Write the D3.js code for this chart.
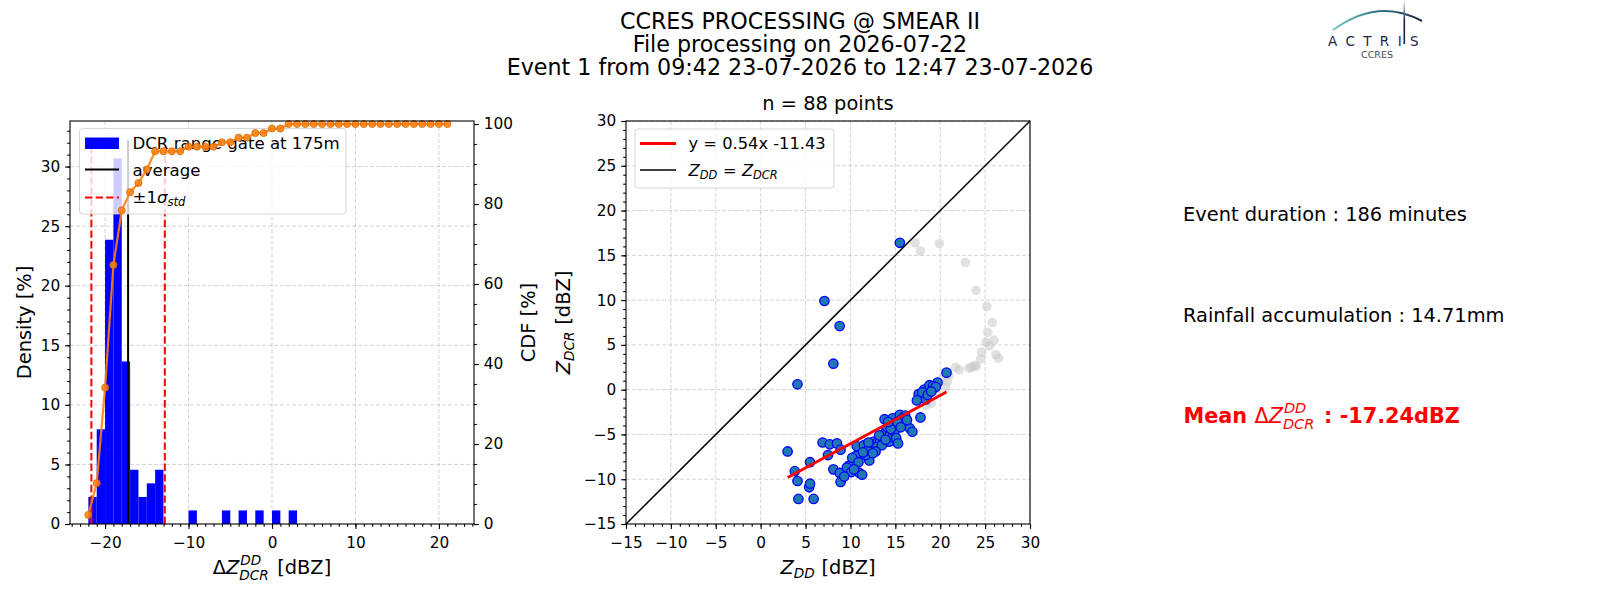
<!DOCTYPE html>
<html>
<head>
<meta charset="utf-8">
<script src="https://cdn.jsdelivr.net/npm/d3@7"></script>
<style>
  body { margin: 0; background: #fff; }
  svg text { font-family: "DejaVu Sans", sans-serif; }
</style>
</head>
<body>
<svg id="fig" width="1600" height="600"></svg>
<script>
// ---- data ----
var titleLines = ["CCRES PROCESSING @ SMEAR II", "File processing on 2026-07-22",
                  "Event 1 from 09:42 23-07-2026 to 12:47 23-07-2026"];

// histogram of dZ (bin left edge, 1 dBZ wide) -> density in %
var binStart = [-22, -21, -20, -19, -18, -17, -16, -15, -14, -10, -6, -4, -2, 0, 2];
var density  = [2.27, 7.95, 23.86, 30.68, 13.64, 4.55, 2.27, 3.41, 4.55, 1.14, 1.14, 1.14, 1.14, 1.14, 1.14];

// cumulative distribution at each bin edge, %
var cdfX   = [-22, -21, -20, -19, -18, -17, -16, -15, -14, -13, -12, -11, -10, -9, -8, -7, -6, -5, -4, -3, -2, -1,
              0, 1, 2, 3, 4, 5, 6, 7, 8, 9, 10, 11, 12, 13, 14, 15, 16, 17, 18, 19, 20, 21];
var cdfVal = [2.27, 10.23, 34.09, 64.77, 78.41, 82.95, 85.23, 88.64, 93.18, 93.18, 93.18, 93.18, 94.32, 94.32,
              94.32, 94.32, 95.45, 95.45, 96.59, 96.59, 97.73, 97.73, 98.86, 98.86, 100, 100, 100, 100, 100, 100,
              100, 100, 100, 100, 100, 100, 100, 100, 100, 100, 100, 100, 100, 100];

var meanDz = -17.24;
var stdDz = 4.40;

// scatter: disdrometer Z vs DCR Z (used points)
var zdd  = [15.5, 7.1, 8.8, 8.1, 4.1, 20.7, 3.0, 3.8, 4.1, 4.2, 5.9, 5.4, 5.5, 5.5, 6.9, 7.7, 8.5, 7.5, 8.9, 8.1,
            8.8, 8.9, 9.8, 9.9, 10.6, 11.0, 11.3, 10.7, 11.5, 12.1, 11.7, 12.4, 12.6, 13.0, 13.3, 13.6, 13.8, 14.0,
            14.3, 14.4, 14.7, 14.9, 15.1, 15.3, 13.8, 14.7, 14.8, 15.5, 16.1, 16.0, 16.6, 16.9, 17.8, 17.6, 18.2,
            18.4, 18.8, 19.3, 19.7, 19.2, 18.0, 19.5, 10.2, 12.2, 9.6, 10.1, 12.9, 14.1, 15.8, 13.5, 11.9, 13.2,
            14.5, 15.2, 12.8, 10.9, 16.3, 18.6, 13.9, 12.5, 11.4, 9.3, 14.2, 15.6, 17.4, 19.0, 12.0, 10.4];
var zdcr = [16.4, 9.9, 7.1, 2.9, 0.6, 1.9, -6.9, -9.1, -10.2, -12.2, -12.2, -10.9, -10.5, -8.1, -5.9, -6.1, -6.0,
            -7.3, -6.7, -8.9, -9.3, -10.3, -8.5, -9.0, -7.4, -9.3, -9.5, -6.3, -6.2, -7.9, -7.3, -6.6, -5.8, -5.9,
            -5.7, -5.4, -4.9, -4.6, -5.8, -5.0, -5.3, -4.7, -5.4, -6.0, -3.3, -3.2, -3.9, -2.8, -2.9, -3.7, -4.3,
            -4.7, -3.1, -0.5, 0.0, -1.1, 0.5, 0.2, 0.8, 0.4, -0.3, 0.3, -7.6, -6.2, -8.7, -9.2, -6.4, -4.2, -3.2,
            -6.2, -6.8, -5.1, -4.4, -3.6, -6.9, -8.1, -3.4, -0.6, -5.6, -7.1, -7.0, -9.7, -3.6, -4.2, -1.2, -0.2,
            -5.9, -8.9];
// points left out (drawn in grey)
var greyZdd  = [17.2, 17.8, 19.9, 22.8, 24.0, 25.2, 25.8, 25.3, 25.1, 25.5, 26.0, 24.6, 24.5, 26.2, 26.5, 24.0,
                23.5, 23.8, 22.1, 21.7, 21.0, 20.8, 20.6, 19.5, 19.0, 18.4, 20.2, 23.2];
var greyZdcr = [16.4, 15.5, 16.3, 14.2, 11.1, 9.3, 7.5, 6.4, 5.3, 4.9, 5.5, 4.2, 3.4, 3.9, 3.5, 2.6,
                2.5, 2.7, 2.2, 2.5, 1.6, 0.9, 0.2, -0.5, -1.5, -1.7, 1.2, 2.4];

var fitSlope = 0.54, fitIntercept = -11.43;
var nPoints = 88;

var histXTicks = [-20, -10, 0, 10, 20];
var densityTicks = [0, 5, 10, 15, 20, 25, 30];
var cdfTicks = [0, 20, 40, 60, 80, 100];
var scatTicks = [-15, -10, -5, 0, 5, 10, 15, 20, 25, 30];

var infoLines = ["Event duration : 186 minutes", "Rainfall accumulation : 14.71mm"];
var meanLabel = "-17.24dBZ";

// ---- helpers ----
var svg = d3.select("#fig");
var fmt = function (d) { return (d < 0 ? "\u2212" : "") + Math.abs(d); };

// text made of pieces, with stacked super/subscripts like mathtext
function richText(parent, x, y, parts, o) {
    var size = o.size;
    var g = parent.append("g")
        .attr("transform", "translate(" + x + "," + y + ")" + (o.rotate ? " rotate(" + o.rotate + ")" : ""));
    var inner = g.append("g");
    var cx = 0;
    function piece(txt, px, py, fs, italic, bold) {
        var t = inner.append("text").attr("x", px).attr("y", py)
            .style("font-size", fs + "px")
            .style("font-style", italic ? "italic" : "normal")
            .style("font-weight", bold ? "bold" : "normal")
            .attr("fill", o.fill || "#000")
            .attr("xml:space", "preserve")
            .text(txt);
        return t.node().getComputedTextLength();
    }
    parts.forEach(function (p) {
        if (p.sup !== undefined || p.sub !== undefined) {
            var w = 0, both = p.sup !== undefined && p.sub !== undefined;
            if (p.sup !== undefined) w = Math.max(w, piece(p.sup, cx + size * 0.05, -size * 0.46, size * 0.7, true));
            if (p.sub !== undefined) w = Math.max(w, piece(p.sub, cx, size * (both ? 0.3 : 0.2), size * 0.7, true));
            cx += w + size * (both ? 0.12 : 0.04);
        } else {
            cx += piece(p.t, cx, 0, size, p.it, p.bold);
        }
    });
    if (o.anchor === "middle") inner.attr("transform", "translate(" + (-cx / 2) + ",0)");
    return g;
}

function styleAxis(g, fs) {
    g.select(".domain").remove();
    g.selectAll("line").attr("stroke", "#000").attr("stroke-width", 1.1);
    g.selectAll("text").attr("fill", "#000").style("font-size", fs + "px")
        .style("font-family", "DejaVu Sans");
}

function grid(g, xs, ys, xScale, yScale, box) {
    xs.forEach(function (v) {
        g.append("line").attr("x1", xScale(v)).attr("x2", xScale(v)).attr("y1", box.y0).attr("y2", box.y1)
            .attr("stroke", "#b0b0b0").attr("stroke-opacity", 0.55).attr("stroke-width", 1)
            .attr("stroke-dasharray", "4,2");
    });
    ys.forEach(function (v) {
        g.append("line").attr("y1", yScale(v)).attr("y2", yScale(v)).attr("x1", box.x0).attr("x2", box.x1)
            .attr("stroke", "#b0b0b0").attr("stroke-opacity", 0.55).attr("stroke-width", 1)
            .attr("stroke-dasharray", "4,2");
    });
}

// ---- title ----
titleLines.forEach(function (s, i) {
    svg.append("text").attr("x", 800).attr("y", 28.5 + i * 23).attr("text-anchor", "middle")
        .style("font-size", "22.2px").text(s);
});

// ---- left panel: histogram + CDF ----
var L = { x0: 70, x1: 474, y0: 121, y1: 524 };
var vTop = d3.max(density) * 1.05;
var hx = d3.scaleLinear().domain([-24.2, 24.2]).range([L.x0, L.x1]);
var hy = d3.scaleLinear().domain([0, vTop * 1.05]).range([L.y1, L.y0]);
var cy = d3.scaleLinear().domain([0, 100.75]).range([L.y1, L.y0]);

var left = svg.append("g");
grid(left, histXTicks, densityTicks.filter(function (d) { return d > 0; }), hx, hy, L);

left.selectAll("rect.bar").data(binStart).enter().append("rect")
    .attr("class", "bar")
    .attr("x", function (d) { return hx(d); })
    .attr("width", function (d) { return hx(d + 1) - hx(d); })
    .attr("y", function (d, i) { return hy(density[i]); })
    .attr("height", function (d, i) { return hy(0) - hy(density[i]); })
    .attr("fill", "#0000ff");

left.append("line").attr("x1", hx(meanDz)).attr("x2", hx(meanDz)).attr("y1", hy(0)).attr("y2", hy(vTop))
    .attr("stroke", "#000").attr("stroke-width", 2);
[meanDz - stdDz, meanDz + stdDz].forEach(function (v) {
    left.append("line").attr("x1", hx(v)).attr("x2", hx(v)).attr("y1", hy(0)).attr("y2", hy(vTop))
        .attr("stroke", "#ff0000").attr("stroke-width", 2).attr("stroke-dasharray", "7.4,3.2");
});

// legend of the histogram axes
var lg = left.append("g");
lg.append("rect").attr("x", 79.5).attr("y", 128.5).attr("width", 266.5).attr("height", 85.5).attr("rx", 3)
    .attr("fill", "#fff").attr("fill-opacity", 0.8).attr("stroke", "#cccccc").attr("stroke-opacity", 0.8);
lg.append("rect").attr("x", 85).attr("y", 137.5).attr("width", 34).attr("height", 11.5).attr("fill", "#0000ff");
lg.append("line").attr("x1", 85).attr("x2", 119).attr("y1", 169.5).attr("y2", 169.5)
    .attr("stroke", "#000").attr("stroke-width", 2);
lg.append("line").attr("x1", 85).attr("x2", 119).attr("y1", 197.5).attr("y2", 197.5)
    .attr("stroke", "#ff0000").attr("stroke-width", 2).attr("stroke-dasharray", "7.4,3.2");
richText(lg, 132.5, 149, [{ t: "DCR range gate at 175m" }], { size: 16.6 });
richText(lg, 132.5, 175.5, [{ t: "average" }], { size: 16.6 });
richText(lg, 132.5, 203, [{ t: "\u00b11" }, { t: "\u03c3", it: true }, { sub: "std" }], { size: 16.6 });

// CDF on the twin axis
var cdfLine = d3.line().x(function (d, i) { return hx(d); }).y(function (d, i) { return cy(cdfVal[i]); });
left.append("path").datum(cdfX).attr("d", cdfLine).attr("fill", "none")
    .attr("stroke", "#ff7f0e").attr("stroke-width", 2.2).attr("stroke-opacity", 0.9);
left.selectAll("circle.cdf").data(cdfX).enter().append("circle")
    .attr("class", "cdf")
    .attr("cx", function (d) { return hx(d); })
    .attr("cy", function (d, i) { return cy(cdfVal[i]); })
    .attr("r", 3.5).attr("fill", "#ff7f0e").attr("fill-opacity", 0.85)
    .attr("stroke", "#e06a00").attr("stroke-width", 0.9);

left.append("rect").attr("x", L.x0).attr("y", L.y0).attr("width", L.x1 - L.x0).attr("height", L.y1 - L.y0)
    .attr("fill", "none").attr("stroke", "#000").attr("stroke-width", 1.1);

var gx = left.append("g").attr("transform", "translate(0," + L.y1 + ")")
    .call(d3.axisBottom(hx).tickValues(histXTicks).tickSize(4.9).tickPadding(8).tickFormat(fmt));
styleAxis(gx, 15.3);
var gxm = left.append("g").attr("transform", "translate(0," + L.y1 + ")")
    .call(d3.axisBottom(hx).tickValues(d3.range(-24, 25)).tickSize(2.8).tickFormat(""));
styleAxis(gxm, 15.3);
var gyl = left.append("g").attr("transform", "translate(" + L.x0 + ",0)")
    .call(d3.axisLeft(hy).tickValues(densityTicks).tickSize(4.9).tickPadding(4.9).tickFormat(fmt));
styleAxis(gyl, 15.3);
var gylm = left.append("g").attr("transform", "translate(" + L.x0 + ",0)")
    .call(d3.axisLeft(hy).tickValues(d3.range(0, 34)).tickSize(2.8).tickFormat(""));
styleAxis(gylm, 15.3);
var gyr = left.append("g").attr("transform", "translate(" + L.x1 + ",0)")
    .call(d3.axisRight(cy).tickValues(cdfTicks).tickSize(4.9).tickPadding(4.9).tickFormat(fmt));
styleAxis(gyr, 15.3);
var gyrm = left.append("g").attr("transform", "translate(" + L.x1 + ",0)")
    .call(d3.axisRight(cy).tickValues(d3.range(0, 101, 5)).tickSize(2.8).tickFormat(""));
styleAxis(gyrm, 15.3);

richText(left, 272, 574, [{ t: "\u0394" }, { t: "Z", it: true }, { sup: "DD", sub: "DCR" }, { t: " [dBZ]" }],
    { size: 19.4, anchor: "middle" });
richText(left, 30.5, 322.5, [{ t: "Density [%]" }], { size: 19.4, anchor: "middle", rotate: -90 });
richText(left, 535, 322.5, [{ t: "CDF [%]" }], { size: 19.4, anchor: "middle", rotate: -90 });

// ---- middle panel: scatter ----
var S = { x0: 626, x1: 1030, y0: 121, y1: 524 };
var sx = d3.scaleLinear().domain([-15, 30]).range([S.x0, S.x1]);
var sy = d3.scaleLinear().domain([-15, 30]).range([S.y1, S.y0]);
var mid = svg.append("g");
grid(mid, scatTicks.slice(1), scatTicks.slice(1), sx, sy, S);

mid.selectAll("circle.grey").data(greyZdd).enter().append("circle")
    .attr("class", "grey")
    .attr("cx", function (d) { return sx(d); })
    .attr("cy", function (d, i) { return sy(greyZdcr[i]); })
    .attr("r", 4.8).attr("fill", "#c8c8c8").attr("fill-opacity", 0.55);

mid.selectAll("circle.pt").data(zdd).enter().append("circle")
    .attr("class", "pt")
    .attr("cx", function (d) { return sx(d); })
    .attr("cy", function (d, i) { return sy(zdcr[i]); })
    .attr("r", 4.7).attr("fill", "#1f77b4").attr("stroke", "#0000ff").attr("stroke-width", 1.3);

var fx = d3.extent(zdd);
mid.append("line").attr("x1", sx(fx[0])).attr("x2", sx(fx[1]))
    .attr("y1", sy(fitSlope * fx[0] + fitIntercept)).attr("y2", sy(fitSlope * fx[1] + fitIntercept))
    .attr("stroke", "#ff0000").attr("stroke-width", 2.8);
mid.append("line").attr("x1", sx(-15)).attr("x2", sx(30)).attr("y1", sy(-15)).attr("y2", sy(30))
    .attr("stroke", "#000").attr("stroke-width", 1.5);

var lg2 = mid.append("g");
lg2.append("rect").attr("x", 635).attr("y", 129).attr("width", 199).attr("height", 59).attr("rx", 3)
    .attr("fill", "#fff").attr("fill-opacity", 0.8).attr("stroke", "#cccccc").attr("stroke-opacity", 0.8);
lg2.append("line").attr("x1", 640).attr("x2", 676).attr("y1", 143.5).attr("y2", 143.5)
    .attr("stroke", "#ff0000").attr("stroke-width", 2.8);
lg2.append("line").attr("x1", 640).attr("x2", 676).attr("y1", 170).attr("y2", 170)
    .attr("stroke", "#000").attr("stroke-width", 1.5);
richText(lg2, 688.5, 149, [{ t: "y = " + fitSlope + "x " + fitIntercept }], { size: 16.3 });
richText(lg2, 688.5, 176, [{ t: "Z", it: true }, { sub: "DD" }, { t: " = " }, { t: "Z", it: true }, { sub: "DCR" }],
    { size: 16.3 });

mid.append("rect").attr("x", S.x0).attr("y", S.y0).attr("width", S.x1 - S.x0).attr("height", S.y1 - S.y0)
    .attr("fill", "none").attr("stroke", "#000").attr("stroke-width", 1.1);

var sgx = mid.append("g").attr("transform", "translate(0," + S.y1 + ")")
    .call(d3.axisBottom(sx).tickValues(scatTicks).tickSize(4.9).tickPadding(8).tickFormat(fmt));
styleAxis(sgx, 15.3);
var sgxm = mid.append("g").attr("transform", "translate(0," + S.y1 + ")")
    .call(d3.axisBottom(sx).tickValues(d3.range(-15, 31)).tickSize(2.8).tickFormat(""));
styleAxis(sgxm, 15.3);
var sgy = mid.append("g").attr("transform", "translate(" + S.x0 + ",0)")
    .call(d3.axisLeft(sy).tickValues(scatTicks).tickSize(4.9).tickPadding(4.9).tickFormat(fmt));
styleAxis(sgy, 15.3);
var sgym = mid.append("g").attr("transform", "translate(" + S.x0 + ",0)")
    .call(d3.axisLeft(sy).tickValues(d3.range(-15, 31)).tickSize(2.8).tickFormat(""));
styleAxis(sgym, 15.3);

richText(mid, 828, 110, [{ t: "n = " + nPoints + " points" }], { size: 19.4, anchor: "middle" });
richText(mid, 828, 574, [{ t: "Z", it: true }, { sub: "DD" }, { t: " [dBZ]" }], { size: 19.4, anchor: "middle" });
richText(mid, 570, 322.5, [{ t: "Z", it: true }, { sub: "DCR" }, { t: " [dBZ]" }],
    { size: 19.4, anchor: "middle", rotate: -90 });

// ---- right: event summary ----
infoLines.forEach(function (s, i) {
    svg.append("text").attr("x", 1183).attr("y", 221 + i * 100.5).style("font-size", "19.4px").text(s);
});
richText(svg, 1183.5, 422.5, [{ t: "Mean ", bold: true }, { t: "\u0394" }, { t: "Z", it: true },
    { sup: "DD", sub: "DCR" }, { t: " : " + meanLabel, bold: true }], { size: 20.8, fill: "#ff0000" });

// ---- ACTRIS logo ----
var defs = svg.append("defs");
var ga = defs.append("linearGradient").attr("id", "arcGrad").attr("x1", "0%").attr("x2", "100%");
ga.append("stop").attr("offset", "0%").attr("stop-color", "#7cc7c2");
ga.append("stop").attr("offset", "45%").attr("stop-color", "#2f7f8c");
ga.append("stop").attr("offset", "100%").attr("stop-color", "#1b2748");
var gv = defs.append("linearGradient").attr("id", "barGrad").attr("x1", "0%").attr("x2", "0%")
    .attr("y1", "0%").attr("y2", "100%");
gv.append("stop").attr("offset", "0%").attr("stop-color", "#ffffff");
gv.append("stop").attr("offset", "45%").attr("stop-color", "#1b2748");
gv.append("stop").attr("offset", "100%").attr("stop-color", "#1b2748");
var logo = svg.append("g");
logo.append("path").attr("d", "M1333,30 Q1378,-3 1422,21").attr("fill", "none")
    .attr("stroke", "url(#arcGrad)").attr("stroke-width", 2);
logo.append("rect").attr("x", 1403.5).attr("y", 0).attr("width", 1.6).attr("height", 44)
    .attr("fill", "url(#barGrad)");
logo.append("text").attr("x", 1328).attr("y", 46).style("font-size", "13.5px")
    .style("letter-spacing", "8.4px").attr("fill", "#1b2748").text("ACTRIS");
logo.append("text").attr("x", 1377).attr("y", 58).attr("text-anchor", "middle").style("font-size", "9.5px")
    .attr("fill", "#3d4a5c").text("CCRES");
</script>
</body>
</html>
